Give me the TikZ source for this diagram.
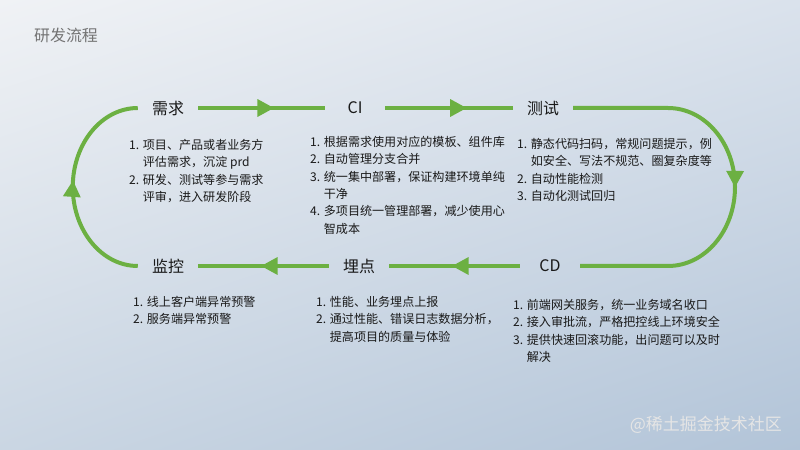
\documentclass[tikz,border=0pt]{standalone}
\usepackage{fontspec}
\setmainfont{Noto Sans CJK SC}
\usetikzlibrary{arrows.meta,decorations.markings,shadings}

\definecolor{flowgreen}{RGB}{108,176,66}
\definecolor{inktext}{RGB}{25,25,25}
\definecolor{bgtl}{RGB}{240,242,245}
\definecolor{bgtr}{RGB}{218,226,236}
\definecolor{bgbl}{RGB}{202,214,227}
\definecolor{bgbr}{RGB}{178,196,216}

\tikzset{
  stage/.style={font=\fontsize{13.6pt}{16pt}\selectfont, text=inktext, minimum width=18mm, inner sep=0pt},
  notes/.style={anchor=north west, align=left, inner sep=0pt, text=inktext,
    font=\fontsize{10.3pt}{14.8pt}\selectfont},
  flow/.style={color=flowgreen, line width=1.2mm},
  arrowat/.style={postaction={decorate}, decoration={markings,
    mark=at position #1 with {\arrow{Triangle[length=5mm,width=5mm]}}}}
}

\newcommand{\hang}{\phantom{1. }}

\begin{document}
\begin{tikzpicture}[x=0.3mm,y=0.3mm]
  % background
  \shade[upper left=bgtl, upper right=bgtr, lower left=bgbl, lower right=bgbr]
    (0,0) rectangle (800,-450);
  \node[anchor=west, text=black!55, font=\fontsize{13.6pt}{16pt}\selectfont] (title) at (30,-35) {研发流程};

  % stages
  \node[stage] (xuqiu) at (168,-108) {需求};
  \node[stage] (ci) at (355,-108) {CI};
  \node[stage] (ceshi) at (543,-108) {测试};
  \node[stage] (cd) at (550,-266) {CD};
  \node[stage] (maidian) at (359,-266) {埋点};
  \node[stage] (jiankong) at (168,-266) {监控};

  % connectors
  \draw[flow, arrowat=0.60] (xuqiu) -- (ci);
  \draw[flow, arrowat=0.64] (ci) -- (ceshi);
  \coordinate (rturn) at (668,-108);
  \draw[flow, arrowat=0.51] (ceshi.east) -- (rturn)
    arc[start angle=90, end angle=-90, x radius=67, y radius=79] -- (cd.east);
  \draw[flow, arrowat=0.52] (cd) -- (maidian);
  \draw[flow, arrowat=0.52] (maidian) -- (jiankong);
  \draw[flow, arrowat=0.53] (jiankong.west)
    arc[start angle=270, end angle=90, x radius=65, y radius=79] -- (xuqiu.west);

  % notes
  \node[notes] (xuqiu-notes) at (129,-139) {1. 项目、产品或者业务方\\\hang 评估需求，沉淀 prd\\2. 研发、测试等参与需求\\\hang 评审，进入研发阶段};
  \node[notes] (ci-notes) at (310,-136) {1. 根据需求使用对应的模板、组件库\\2. 自动管理分支合并\\3. 统一集中部署，保证构建环境单纯\\\hang 干净\\4. 多项目统一管理部署，减少使用心\\\hang 智成本};
  \node[notes] (ceshi-notes) at (517,-138) {1. 静态代码扫码，常规问题提示，例\\\hang 如安全、写法不规范、圈复杂度等\\2. 自动性能检测\\3. 自动化测试回归};
  \node[notes] (jiankong-notes) at (133,-296) {1. 线上客户端异常预警\\2. 服务端异常预警};
  \node[notes] (maidian-notes) at (316,-296) {1. 性能、业务埋点上报\\2. 通过性能、错误日志数据分析，\\\hang 提高项目的质量与体验};
  \node[notes] (cd-notes) at (513,-299) {1. 前端网关服务，统一业务域名收口\\2. 接入审批流，严格把控线上环境安全\\3. 提供快速回滚功能，出问题可以及时\\\hang 解决};

  \node[anchor=east, text=white!80!gray, font=\fontsize{14.5pt}{17pt}\selectfont] (mark) at (786,-425) {@稀土掘金技术社区};
\end{tikzpicture}
\end{document}
